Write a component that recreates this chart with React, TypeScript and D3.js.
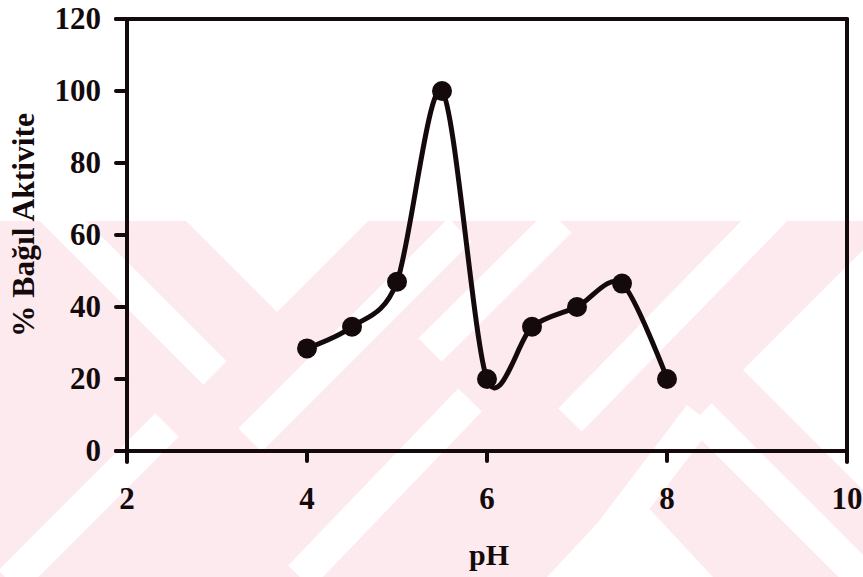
import React from "react";
import * as d3 from "d3";

const PH = [4, 4.5, 5, 5.5, 6, 6.5, 7, 7.5, 8];
const ACTIVITY = [28.5, 34.5, 47, 100, 20, 34.5, 40, 46.5, 20];
const X_TICKS = [2, 4, 6, 8, 10];
const Y_TICKS = [0, 20, 40, 60, 80, 100, 120];
const X_TITLE = "pH";
const Y_TITLE = "% Bağıl Aktivite";

const W = 863;
const H = 577;
const INK = "#140a0c";
const PINK = "#fdeaee";
const FONT = "'Liberation Serif', 'Times New Roman', serif";

export default function App() {
  const x = d3.scaleLinear().domain([2, 10]).range([127, 847]);
  const y = d3.scaleLinear().domain([0, 120]).range([451, 19]);
  const pts = PH.map((p, i) => [x(p), y(ACTIVITY[i])] as [number, number]);
  const line = d3.line().curve(d3.curveCardinal.tension(0.12))(pts) || "";

  // decorative background watermark (not data)
  const wmTop = 221;
  const bands: [number, number, number, number][] = [
    [40, 198, 215, 373],
    [460, 230, 250, 440],
    [470, 400, 300, 577],
    [167, 425, 10, 582],
    [560, 221, 430, 350],
    [775, 210, 570, 420],
    [700, 415, 560, 600],
    [700, 415, 880, 595],
  ];
  const tris = [
    "186,221 368,221 277,312",
    "743,370 880,233 880,507",
    "630,488 535,590 725,590",
  ];

  return (
    <svg
      width={W}
      height={H}
      style={{ position: "absolute", left: 0, top: 0, background: "#fff" }}
      fontFamily={FONT}
    >
      <defs>
        <clipPath id="wm">
          <rect x={0} y={wmTop} width={W} height={H - wmTop} />
        </clipPath>
      </defs>
      <g clipPath="url(#wm)">
        <rect x={0} y={wmTop} width={W} height={H - wmTop} fill={PINK} />
        {bands.map((b, i) => (
          <line key={i} x1={b[0]} y1={b[1]} x2={b[2]} y2={b[3]} stroke="#fff" strokeWidth={33} />
        ))}
        {tris.map((t, i) => (
          <polygon key={i} points={t} fill="#fff" />
        ))}
      </g>

      {/* frame */}
      <g stroke={INK} strokeWidth={4} fill="none" strokeLinecap="round">
        <line x1={x(2)} y1={y(120)} x2={x(2)} y2={y(0) + 11} />
        <line x1={x(2) - 11} y1={y(120)} x2={x(10)} y2={y(120)} />
        <line x1={x(10)} y1={y(120)} x2={x(10)} y2={y(0) + 11} />
        <line x1={x(2) - 11} y1={y(0)} x2={x(10)} y2={y(0)} />
        {Y_TICKS.map((t) => (
          <line key={"yt" + t} x1={x(2) - 11} x2={x(2)} y1={y(t)} y2={y(t)} />
        ))}
        {X_TICKS.map((t) => (
          <line key={"xt" + t} x1={x(t)} x2={x(t)} y1={y(0)} y2={y(0) + 10} />
        ))}
      </g>

      {/* tick labels */}
      <g fill={INK} fontWeight="bold" fontSize={31}>
        {Y_TICKS.map((t) => (
          <text key={"yl" + t} x={101} y={y(t)} dy="0.33em" textAnchor="end">
            {t}
          </text>
        ))}
        {X_TICKS.map((t) => (
          <text key={"xl" + t} x={x(t)} y={509} textAnchor="middle">
            {t}
          </text>
        ))}
      </g>

      {/* axis titles */}
      <text x={489} y={565} textAnchor="middle" fontWeight="bold" fontSize={30} fill={INK}>
        {X_TITLE}
      </text>
      <text
        transform={`translate(34, 225) rotate(-90)`}
        textAnchor="middle"
        fontWeight="bold"
        fontSize={31.5}
        fill={INK}
      >
        {Y_TITLE}
      </text>

      {/* series */}
      <path d={line} fill="none" stroke={INK} strokeWidth={5} strokeLinejoin="round" />
      {pts.map((p, i) => (
        <circle key={i} cx={p[0]} cy={p[1]} r={10} fill={INK} />
      ))}
    </svg>
  );
}
